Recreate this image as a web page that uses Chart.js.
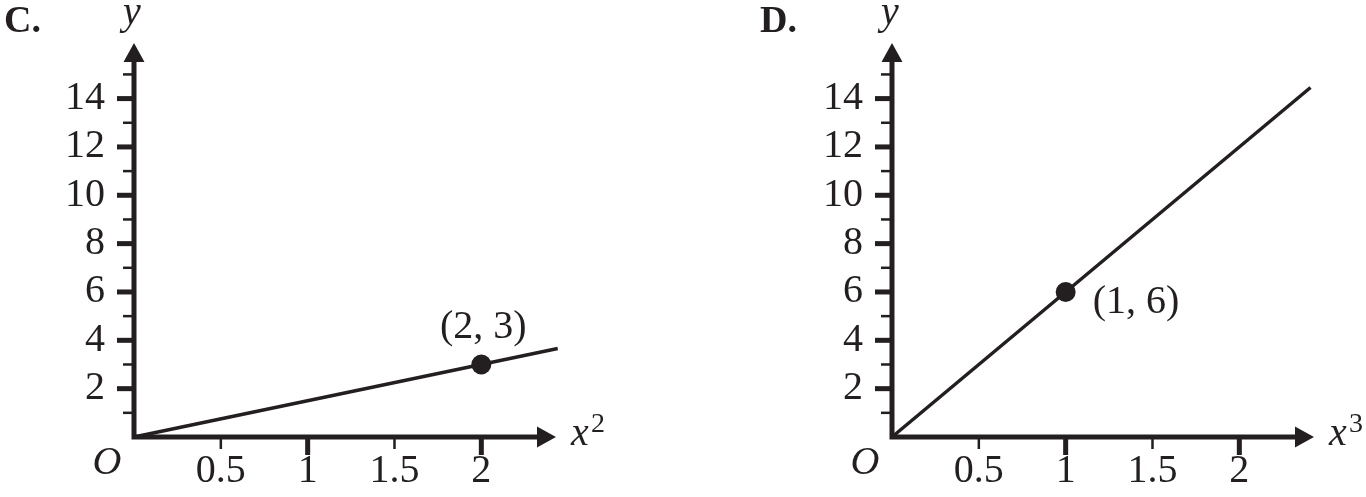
<!DOCTYPE html>
<html>
<head>
<meta charset="utf-8">
<script src="https://cdn.jsdelivr.net/npm/chart.js@4.4.1/dist/chart.umd.min.js"></script>
<style>
  html, body { margin: 0; padding: 0; background: #fff; }
  .wrap { position: relative; width: 1366px; height: 497px; }
  canvas { position: absolute; top: 0; }
  #chartC { left: 0; }
  #chartD { left: 683px; }
</style>
</head>
<body>
<div class="wrap">
  <canvas id="chartC" width="683" height="497"></canvas>
  <canvas id="chartD" width="683" height="497"></canvas>
</div>
<script>
// tick values
const xLabels = [0.5, 1, 1.5, 2];
const xMajor = [1, 2];
const xMinor = [0.5, 1.5];
const yMajor = [2, 4, 6, 8, 10, 12, 14];
const yMinor = [1, 3, 5, 7, 9, 11, 13, 15];

// panel C: y against x^2
const lineCX = [0, 2.44];
const lineCY = [0, 3.66];
const pointCX = [2];
const pointCY = [3];

// panel D: y against x^3
const lineDX = [0, 2.41];
const lineDY = [0, 14.46];
const pointDX = [1];
const pointDY = [6];

const ink = "#231f20";
const serif = "'Liberation Serif', 'Times New Roman', serif";

const toPoints = (xs, ys) => xs.map((x, i) => ({ x: x, y: ys[i] }));

const axesPlugin = {
  id: "axes",
  beforeDatasetsDraw(chart, args, opts) {
    const c = chart.ctx;
    const xs = chart.scales.x;
    const ys = chart.scales.y;
    const ox = xs.getPixelForValue(0);
    const oy = ys.getPixelForValue(0);
    const right = chart.chartArea.right;
    const top = chart.chartArea.top;
    c.save();
    c.fillStyle = ink;
    c.strokeStyle = ink;
    c.lineWidth = 5;
    c.beginPath();
    c.moveTo(ox, oy + 2.5);
    c.lineTo(ox, top + 16);
    c.moveTo(ox - 2.5, oy);
    c.lineTo(right - 16, oy);
    c.stroke();
    // arrow heads
    c.beginPath();
    c.moveTo(ox, top);
    c.lineTo(ox - 10.5, top + 19);
    c.lineTo(ox + 10.5, top + 19);
    c.closePath();
    c.moveTo(right, oy);
    c.lineTo(right - 19, oy - 10.5);
    c.lineTo(right - 19, oy + 10.5);
    c.closePath();
    c.fill();
    // tick marks
    yMajor.forEach((v) => {
      const y = ys.getPixelForValue(v);
      c.fillRect(ox - 17, y - 2.5, 17, 5);
    });
    yMinor.forEach((v) => {
      const y = ys.getPixelForValue(v);
      c.fillRect(ox - 11, y - 1.25, 11, 2.5);
    });
    xMajor.forEach((v) => {
      const x = xs.getPixelForValue(v);
      c.fillRect(x - 2.5, oy, 5, 18);
    });
    xMinor.forEach((v) => {
      const x = xs.getPixelForValue(v);
      c.fillRect(x - 1.25, oy, 2.5, 12);
    });
    c.restore();
  },
  afterDraw(chart, args, opts) {
    const c = chart.ctx;
    const xs = chart.scales.x;
    const ys = chart.scales.y;
    const ox = xs.getPixelForValue(0);
    const right = chart.chartArea.right;
    c.save();
    c.fillStyle = ink;
    c.textBaseline = "alphabetic";

    c.font = "bold 38px " + serif;
    c.textAlign = "left";
    c.fillText(opts.letter, opts.letterX, 32);

    c.font = "italic 40px " + serif;
    c.textAlign = "center";
    c.fillText("y", ox - 2, 24);
    c.fillText("O", ox - 27, 474);

    c.textAlign = "left";
    c.fillText("x", right + 15, 445);
    c.font = "28px " + serif;
    c.fillText(opts.power, right + 35, 432);

    c.font = "40px " + serif;
    c.textAlign = opts.labelAlign;
    const px = xs.getPixelForValue(opts.labelAt[0]);
    const py = ys.getPixelForValue(opts.labelAt[1]);
    c.fillText(opts.label, px + opts.labelDx, py + opts.labelDy);
    c.restore();
  },
};

function makePanel(id, lineX, lineY, ptX, ptY, axisLeft, padRight, textOpts) {
  return new Chart(document.getElementById(id), {
    type: "scatter",
    data: {
      datasets: [
        {
          data: toPoints(lineX, lineY),
          showLine: true,
          borderColor: ink,
          borderWidth: 3.5,
          pointRadius: 0,
          clip: false,
        },
        {
          data: toPoints(ptX, ptY),
          pointRadius: 10,
          pointBackgroundColor: ink,
          pointBorderWidth: 0,
          clip: false,
        },
      ],
    },
    options: {
      responsive: false,
      animation: false,
      layout: {
        autoPadding: false,
        padding: { left: 0, right: padRight, top: 43, bottom: 0 },
      },
      plugins: {
        legend: { display: false },
        tooltip: { enabled: false },
        axes: textOpts,
      },
      scales: {
        x: {
          type: "linear",
          min: 0,
          max: 2.43,
          grid: { display: false, drawTicks: false },
          border: { display: false },
          afterBuildTicks: (scale) => {
            scale.ticks = xLabels.map((v) => ({ value: v }));
          },
          afterFit: (scale) => {
            scale.height = 60;
            scale.paddingLeft = 0;
            scale.paddingRight = 0;
          },
          ticks: {
            padding: 10,
            color: ink,
            font: { family: serif, size: 40 },
            maxRotation: 0,
            autoSkip: false,
            callback: (v) => String(v),
          },
        },
        y: {
          type: "linear",
          min: 0,
          max: 16.3,
          grid: { display: false, drawTicks: false },
          border: { display: false },
          afterBuildTicks: (scale) => {
            scale.ticks = yMajor.map((v) => ({ value: v }));
          },
          afterFit: (scale) => {
            scale.width = axisLeft;
            scale.paddingTop = 0;
            scale.paddingBottom = 0;
          },
          ticks: {
            padding: 29,
            color: ink,
            font: { family: serif, size: 40 },
            autoSkip: false,
            callback: (v) => String(v),
          },
        },
      },
    },
    plugins: [axesPlugin],
  });
}

makePanel("chartC", lineCX, lineCY, pointCX, pointCY, 134, 127, {
  letter: "C.",
  letterX: 4,
  power: "2",
  label: "(2, 3)",
  labelAt: [pointCX[0], pointCY[0]],
  labelAlign: "center",
  labelDx: 2,
  labelDy: -26,
});

makePanel("chartD", lineDX, lineDY, pointDX, pointDY, 209, 52, {
  letter: "D.",
  letterX: 77,
  power: "3",
  label: "(1, 6)",
  labelAt: [pointDX[0], pointDY[0]],
  labelAlign: "left",
  labelDx: 27,
  labelDy: 21,
});
</script>
</body>
</html>
